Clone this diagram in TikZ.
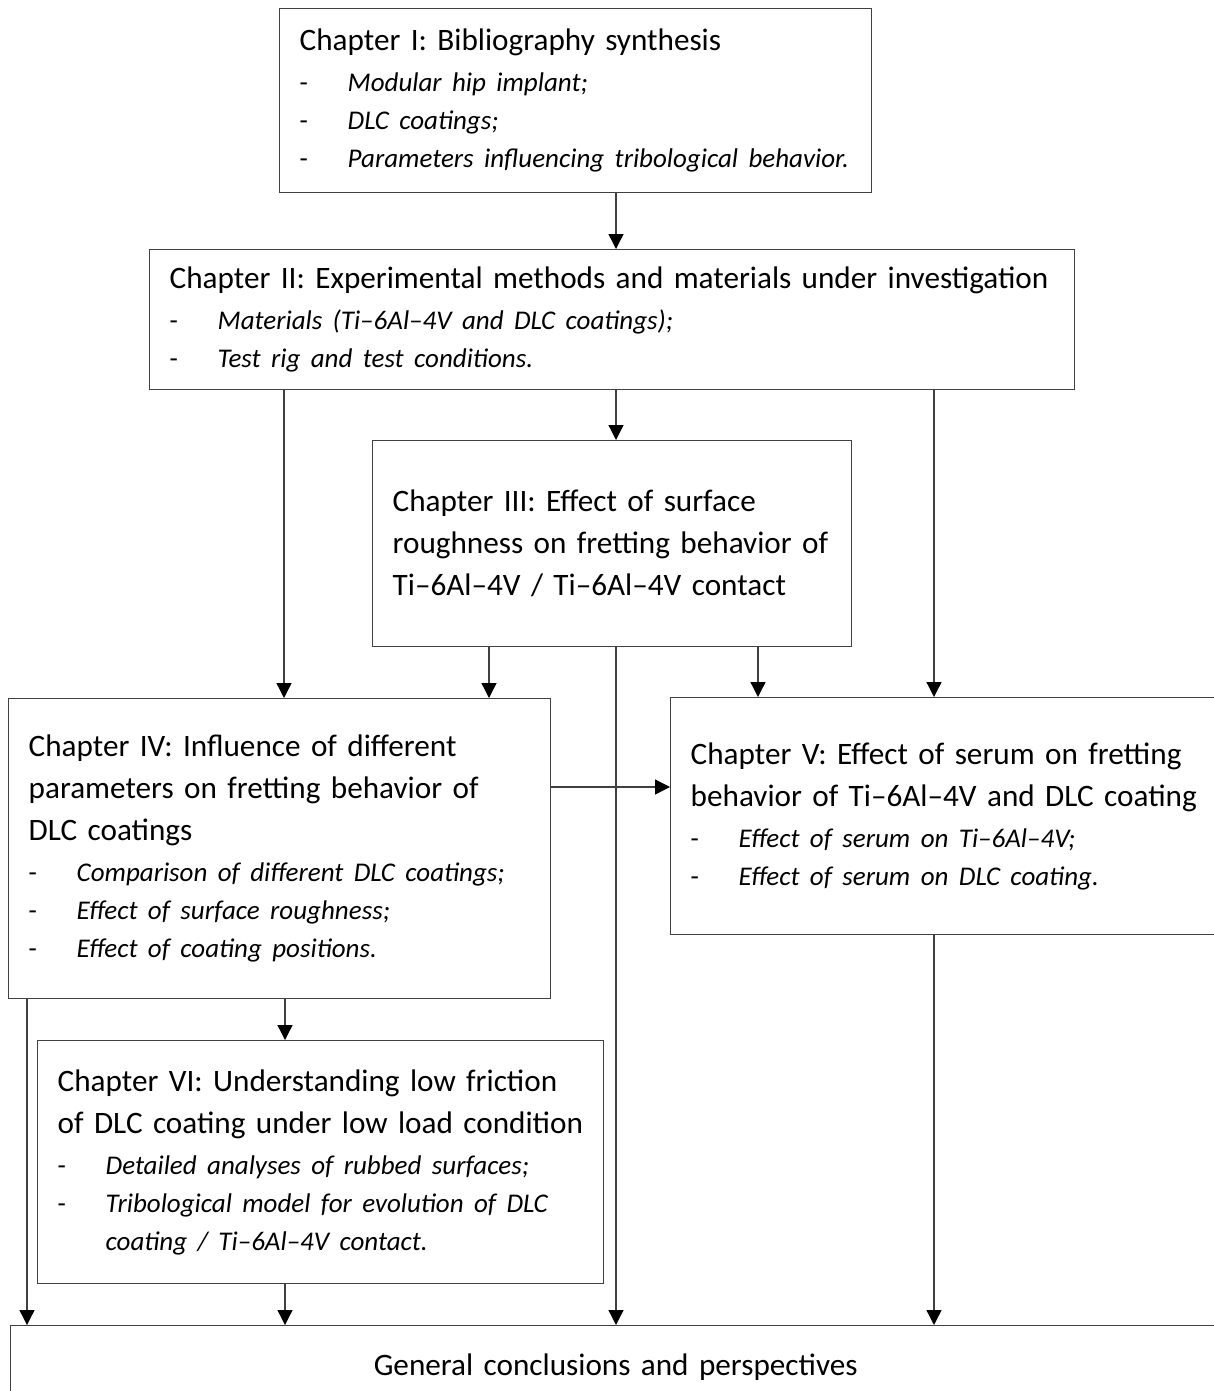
\documentclass[tikz,border=0pt]{standalone}
\usepackage{fontspec}
\setmainfont{Carlito}
\usetikzlibrary{arrows.meta}
\newcommand{\ttl}{\fontsize{31.2}{42}\selectfont}
\newcommand{\itm}[1]{\par\fontsize{27}{38}\selectfont\hangindent=48pt\hangafter=1\noindent\makebox[48pt][l]{-}\textit{#1}\par}

\begin{document}
\begin{tikzpicture}[x=1pt,y=-1pt,
  box/.style={draw=black!75,line width=1.4pt,anchor=north west,align=left,inner xsep=20pt,inner ysep=0pt,font=\ttl},
  arr/.style={draw=black!75,line width=1.3pt,-{Triangle[length=15pt,width=15pt,color=black]}}]
\useasboundingbox (0,0) rectangle (1214,1391);
\node[box,text width=552pt,minimum height=184pt](ch1) at (279,8){Chapter I: Bibliography synthesis\par\vspace{3pt}\itm{Modular hip implant;}\itm{DLC coatings;}\itm{Parameters influencing tribological behavior.}};
\node[box,text width=885pt,minimum height=140pt](ch2) at (149,249){Chapter II: Experimental methods and materials under investigation\par\vspace{3pt}\itm{Materials (Ti--6Al--4V and DLC coatings);}\itm{Test rig and test conditions.}};
\node[box,text width=439pt,minimum height=206pt](ch3) at (372,440){Chapter III: Effect of surface\\roughness on fretting behavior of\\Ti--6Al--4V / Ti--6Al--4V contact};
\node[box,text width=502pt,minimum height=300pt](ch4) at (8,698){Chapter IV: Influence of different\\parameters on fretting behavior of\\DLC coatings\par\vspace{3pt}\itm{Comparison of different DLC coatings;}\itm{Effect of surface roughness;}\itm{Effect of coating positions.}};
\node[box,text width=530pt,minimum height=237pt](ch5) at (670,697){Chapter V: Effect of serum on fretting\\behavior of Ti--6Al--4V and DLC coating\par\vspace{3pt}\itm{Effect of serum on Ti--6Al--4V;}\itm{Effect of serum on DLC coating.}};
\node[box,text width=526pt,minimum height=243pt](ch6) at (37,1040){Chapter VI: Understanding low friction\\of DLC coating under low load condition\par\vspace{3pt}\itm{Detailed analyses of rubbed surfaces;}\itm{Tribological model for evolution of DLC\break coating / Ti--6Al--4V contact.}};
\node[box,text width=1170pt,align=center,minimum height=82pt](concl) at (10,1325){General conclusions and perspectives};
\coordinate (xm) at (616,0);
\coordinate (xl) at (284,0);
\coordinate (xr) at (934,0);
\coordinate (xc) at (489,0);
\coordinate (xd) at (758,0);
\coordinate (xf) at (285,0);
\coordinate (xe) at (27,0);
\coordinate (yh) at (0,787);
\draw[arr] (ch1.south -| xm) -- (ch2.north -| xm);
\draw[arr] (ch2.south -| xm) -- (ch3.north -| xm);
\draw[arr] (ch2.south -| xl) -- (ch4.north -| xl);
\draw[arr] (ch2.south -| xr) -- (ch5.north -| xr);
\draw[arr] (ch3.south -| xc) -- (ch4.north -| xc);
\draw[arr] (ch3.south -| xd) -- (ch5.north -| xd);
\draw[arr] (ch3.south -| xm) -- (concl.north -| xm);
\draw[arr] (ch4.east |- yh) -- (ch5.west |- yh);
\draw[arr] (ch4.south -| xf) -- (ch6.north -| xf);
\draw[arr] (ch4.south -| xe) -- (concl.north -| xe);
\draw[arr] (ch6.south -| xf) -- (concl.north -| xf);
\draw[arr] (ch5.south -| xr) -- (concl.north -| xr);
\end{tikzpicture}
\end{document}
